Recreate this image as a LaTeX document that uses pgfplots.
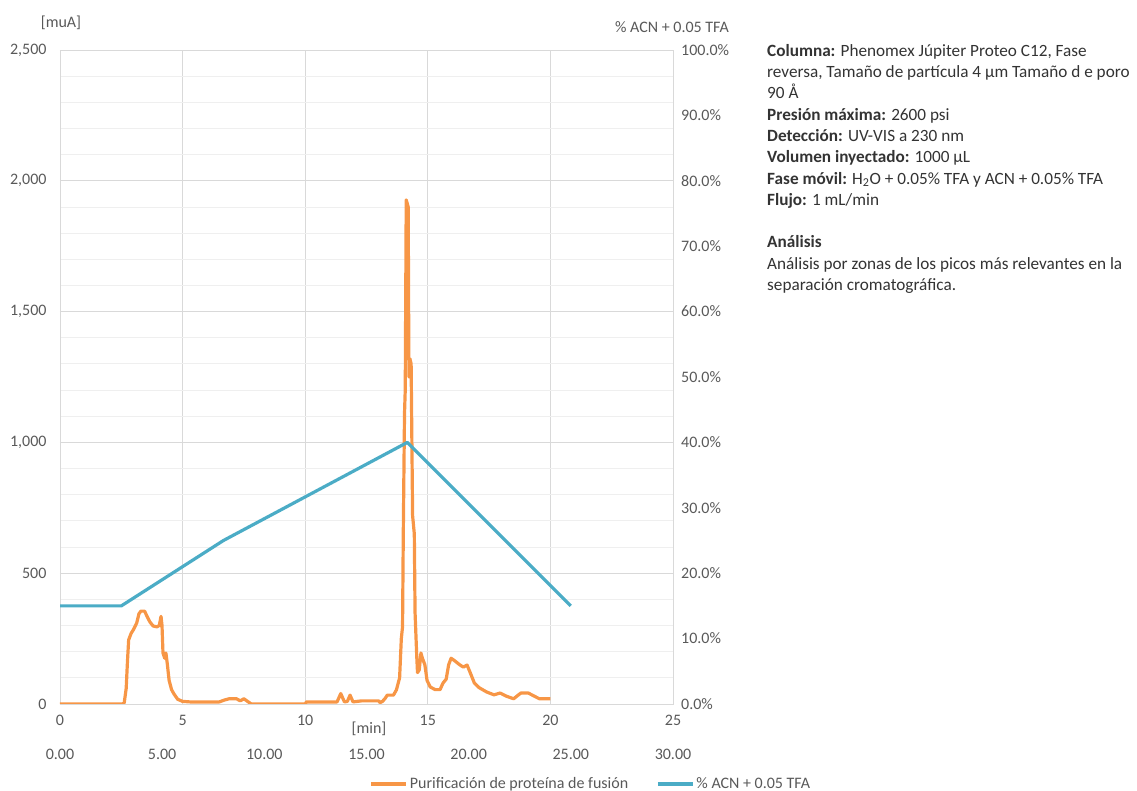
\documentclass[border=0pt]{standalone}
\usepackage{pgfplots}
\pgfplotsset{compat=1.18}
\usepackage{fontspec}
\setmainfont{Carlito}
\definecolor{cOrange}{HTML}{F79646}
\definecolor{cBlue}{HTML}{4BACC6}
\definecolor{cGrid}{HTML}{D9D9D9}
\definecolor{cMinor}{HTML}{EFEFEF}
\definecolor{cText}{HTML}{595959}
\definecolor{cBody}{HTML}{333333}

\begin{document}
\begin{tikzpicture}
\useasboundingbox (-60pt,-87pt) rectangle (1077pt,704pt);
\begin{axis}[
  at={(0pt,0pt)}, anchor=south west,
  width=613pt, height=654pt, scale only axis,
  xmin=0, xmax=25, ymin=0, ymax=2500,
  xtick={0,5,...,25}, ytick={0,500,...,2500},
  minor ytick={100,200,300,400,600,700,800,900,1100,1200,1300,1400,1600,1700,1800,1900,2100,2200,2300,2400},
  grid=both,
  major grid style={cGrid, line width=0.9pt},
  minor grid style={cMinor, line width=0.9pt},
  axis line style={cGrid, line width=0.9pt},
  tick style={draw=none},
  ticklabel style={font=\fontsize{16}{18}\selectfont, text=cText},
  /pgf/number format/assume math mode=true,
  /pgf/number format/1000 sep={,},
  yticklabel style={xshift=-10pt},
  xticklabel style={yshift=-7.5pt},
]
\addplot[cOrange, line width=3.2pt, line join=round] coordinates {
(0,0) (2.55,0) (2.62,5) (2.7,60) (2.75,160) (2.8,245) (2.9,270) (3.0,285)
(3.13,310) (3.22,345) (3.3,355) (3.45,355) (3.55,335) (3.67,313) (3.8,298)
(3.95,295) (4.05,300) (4.12,335) (4.16,300) (4.2,195) (4.27,175) (4.32,195)
(4.38,150) (4.45,90) (4.55,55) (4.65,38) (4.8,18) (5.0,10) (5.3,8) (6.0,8)
(6.5,8) (6.7,15) (6.9,20) (7.2,20) (7.35,12) (7.5,20) (7.65,10) (7.8,0)
(10.0,0) (10.05,8) (11.3,8) (11.45,40) (11.6,8) (11.72,10) (11.83,34)
(11.95,8) (12.3,12) (13.0,12) (13.05,5) (13.15,10) (13.25,20) (13.35,34)
(13.6,34) (13.72,54) (13.85,100) (13.92,250) (13.97,295) (14.0,650)
(14.05,1110) (14.08,1200) (14.12,1927) (14.2,1900) (14.23,1250) (14.27,1320)
(14.32,1300) (14.38,720) (14.45,650) (14.48,350) (14.55,180) (14.58,120)
(14.65,130) (14.72,195) (14.78,175) (14.88,150) (14.97,90) (15.1,65)
(15.3,55) (15.5,55) (15.62,80) (15.75,95) (15.85,150) (15.95,175) (16.1,165)
(16.3,150) (16.45,141) (16.6,149) (16.72,122) (16.9,80) (17.1,62) (17.4,46)
(17.7,35) (17.95,42) (18.2,30) (18.5,20) (18.7,35) (18.8,42) (19.1,42)
(19.3,32) (19.55,20) (20.0,20)
};
\end{axis}
\begin{axis}[
  at={(0pt,0pt)}, anchor=south west,
  width=613pt, height=654pt, scale only axis,
  xmin=0, xmax=30, ymin=0, ymax=100,
  axis x line*=bottom, axis y line*=right,
  axis line style={draw=none},
  tick style={draw=none},
  xtick={0,5,...,30}, ytick={0,10,...,100},
  ticklabel style={font=\fontsize{16}{18}\selectfont, text=cText},
  /pgf/number format/assume math mode=true,
  xticklabel={\pgfmathprintnumber[fixed,fixed zerofill,precision=2]{\tick}},
  yticklabel={\pgfmathprintnumber[fixed,fixed zerofill,precision=1]{\tick}\%},
  xticklabel style={yshift=-41.5pt},
  yticklabel style={anchor=west, xshift=4.7pt},
  legend style={at={(0.8662,-0.1223)}, anchor=center, draw=none, fill=none,
    font=\fontsize{16}{18}\selectfont, text=cText, legend columns=2,
    /tikz/every even column/.append style={column sep=26pt}},
  legend image code/.code={\draw[#1, line width=3.2pt] (0pt,0pt) -- (35pt,0pt);},
  clip=false,
]
\addlegendimage{cOrange}
\addlegendentry{Purificación de proteína de fusión}
\addplot[cBlue, line width=3.2pt, line join=round] coordinates {
(0,15) (3,15) (8,25) (17,40) (25,15)
};
\addlegendentry{\% ACN + 0.05 TFA}
\end{axis}
\node[font=\fontsize{16}{18}\selectfont, text=cText] at (1pt,681pt) {[muA]};
\node[font=\fontsize{16}{18}\selectfont, text=cText] at (612pt,677pt) {\% ACN + 0.05 TFA};
\node[font=\fontsize{16}{18}\selectfont, text=cText] at (309pt,-25pt) {[min]};
\node[anchor=north west, align=left, inner sep=0pt, text=cBody,
  font=\fontsize{17.2}{21.3}\selectfont] at (707pt,660pt) {%
\textbf{Columna:} Phenomex Júpiter Proteo C12, Fase\\
reversa, Tamaño de partícula 4 µm Tamaño d e poro\\
90 Å\\
\textbf{Presión máxima:} 2600 psi\\
\textbf{Detección:} UV-VIS a 230 nm\\
\textbf{Volumen inyectado:} 1000 µL\\
\textbf{Fase móvil:} H\textsubscript{2}O + 0.05\% TFA y ACN + 0.05\% TFA\\
\textbf{Flujo:} 1 mL/min\\
\mbox{}\\
\textbf{Análisis}\\
Análisis por zonas de los picos más relevantes en la\\
separación cromatográfica.};
\end{tikzpicture}
\end{document}
